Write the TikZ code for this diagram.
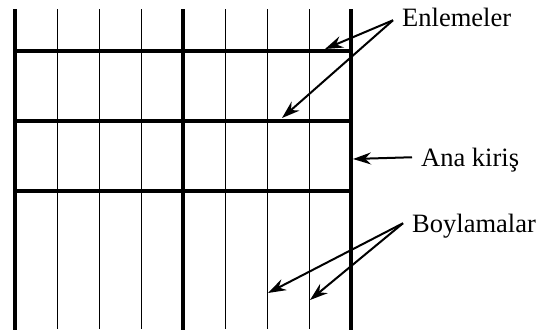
\documentclass[tikz,border=0pt]{standalone}
\usepackage{fontspec}
\setmainfont{Liberation Serif}
\usetikzlibrary{arrows.meta}
\begin{document}
\begin{tikzpicture}[x=1pt,y=-1pt,
  thinbeam/.style={line width=0.9pt},
  thickbeam/.style={line width=3.8pt},
  crossbeam/.style={line width=3.4pt},
  pointer/.style={line width=2pt,-{Stealth[length=18pt,width=12pt,inset=6pt]}},
  lbl/.style={font=\fontsize{26.5}{30}\selectfont,inner xsep=9pt,inner ysep=0pt,text height=17.5pt,text depth=0pt,anchor=base west}]
\useasboundingbox (0,0) rectangle (537,332);
% thin longitudinals
\foreach \x in {57,99,141,225,267,309} \draw[thinbeam] (\x,9) -- (\x,329);
% transverse beams
\foreach \y in {51,121,191} \draw[crossbeam] (15,\y) -- (351,\y);
% main girders
\foreach \x in {15,183,351} \draw[thickbeam] (\x,9) -- (\x,330);
% labels
\node[lbl] (en) at (393,26) {Enlemeler};
\node[lbl] (ana) at (412,166) {Ana kiriş};
\node[lbl] (boy) at (403,232) {Boylamalar};
% targets
\coordinate (t1) at (325,49);
\coordinate (t2) at (282,118);
\coordinate (t3) at (353,159);
\coordinate (t4) at (268,293);
\coordinate (t5) at (310,300);
\draw[pointer] ([yshift=-3pt]en.west) -- (t1);
\draw[pointer] ([yshift=-3pt]en.west) -- (t2);
\draw[pointer] (ana.west) -- (t3);
\draw[pointer] (boy.west) -- (t4);
\draw[pointer] (boy.west) -- (t5);
\end{tikzpicture}
\end{document}
